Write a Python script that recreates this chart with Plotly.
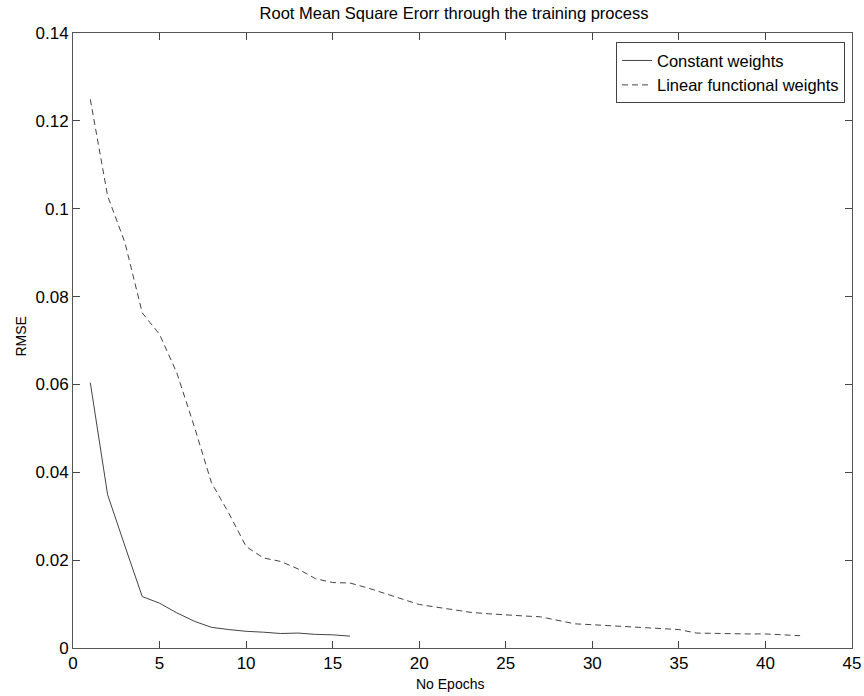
import plotly.graph_objects as go

epochs_const = list(range(1, 17))
rmse_const = [0.0604, 0.0349, 0.0232, 0.0117, 0.0102, 0.0080, 0.0061, 0.0047,
              0.0042, 0.0038, 0.0036, 0.0033, 0.0034, 0.0031, 0.0030, 0.0027]

epochs_lin = list(range(1, 43))
rmse_lin = [0.1249, 0.1029, 0.0923, 0.0763, 0.0714, 0.0626, 0.0505, 0.0376,
            0.0307, 0.0231, 0.0205, 0.0197, 0.0180, 0.0158, 0.0149, 0.0148,
            0.0137, 0.0124, 0.0112, 0.0099, 0.0093, 0.0087, 0.0081, 0.0078,
            0.0075, 0.0073, 0.0071, 0.0063, 0.0055, 0.0053, 0.0051, 0.0048,
            0.0046, 0.0044, 0.0042, 0.0034, 0.0033, 0.0032, 0.0032, 0.0032,
            0.0030, 0.0028]

x_ticks = [0, 5, 10, 15, 20, 25, 30, 35, 40, 45]
y_ticks = [0, 0.02, 0.04, 0.06, 0.08, 0.1, 0.12, 0.14]
y_ticktext = ["0", "0.02", "0.04", "0.06", "0.08", "0.1", "0.12", "0.14"]

FONT = "Liberation Sans, Arial, sans-serif"

fig = go.Figure()
fig.add_trace(go.Scatter(x=epochs_const, y=rmse_const, mode="lines",
                         name="Constant weights",
                         line=dict(color="#444444", width=1)))
fig.add_trace(go.Scatter(x=epochs_lin, y=rmse_lin, mode="lines",
                         name="Linear functional weights",
                         line=dict(color="#444444", width=1, dash="6px,4px")))

axis_common = dict(showgrid=False, zeroline=False, showline=True, mirror="ticks",
                   linecolor="#555555", linewidth=1, ticks="inside", ticklen=7,
                   tickcolor="#444444", automargin=False,
                   tickfont=dict(family=FONT, size=17, color="black"))

fig.update_layout(
    width=864, height=696,
    margin=dict(l=73, r=12, t=33, b=48),
    paper_bgcolor="white", plot_bgcolor="white",
    title=dict(text="Root Mean Square Erorr through the training process",
               x=454 / 864, xanchor="center", xref="container",
               y=1 - 13 / 696, yanchor="middle", yref="container",
               font=dict(family=FONT, size=16.5, color="black")),
    xaxis=dict(range=[0, 45], tickvals=x_ticks, **axis_common),
    yaxis=dict(range=[0, 0.14], tickvals=y_ticks, ticktext=y_ticktext, **axis_common),
    legend=dict(x=0.991, y=0.985, xanchor="right", yanchor="top",
                bgcolor="white", bordercolor="#444444", borderwidth=1,
                font=dict(family=FONT, size=16.5, color="black"),
                tracegroupgap=0, itemwidth=30),
    showlegend=True,
    annotations=[
        dict(text="No Epochs", xref="paper", yref="paper",
             x=(450 - 73) / 779, y=(648 - 684) / 615,
             xanchor="center", yanchor="middle", showarrow=False,
             font=dict(family=FONT, size=14, color="black")),
        dict(text="RMSE", xref="paper", yref="paper",
             x=(20 - 73) / 779, y=(648 - 336.5) / 615, textangle=-90,
             xanchor="center", yanchor="middle", showarrow=False,
             font=dict(family=FONT, size=14, color="black")),
    ],
)

fig.write_html("out.html", config={"displayModeBar": False},
               post_script="document.body.style.margin='0';document.body.style.padding='0';")
